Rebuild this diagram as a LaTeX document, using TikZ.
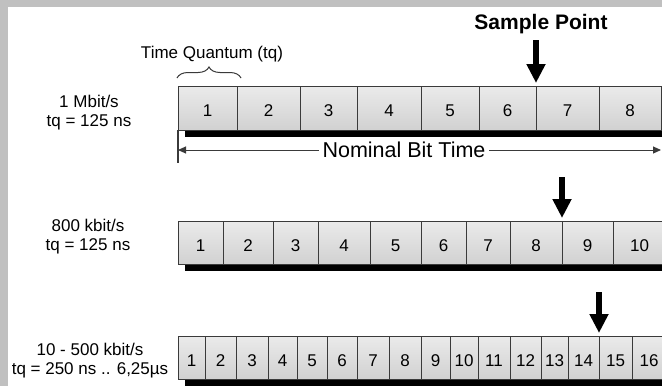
\documentclass[tikz,border=0pt]{standalone}
\usepackage{fontspec}
\setmainfont{Liberation Sans}
\usetikzlibrary{positioning, arrows.meta, decorations.pathreplacing, backgrounds}
\definecolor{framegray}{HTML}{C0C0C0}
\definecolor{linegray}{HTML}{3A3A3A}
\tikzset{
tqcell/.style={draw=linegray, line width=0.9pt, anchor=north west, outer sep=0pt, inner sep=0pt,
  top color=gray!16, middle color=white, bottom color=gray!36,
  text height=17pt, text depth=0pt, font=\fontsize{17}{20}\selectfont}, % one time quantum
rowshadow/.style={fill=black}, % dark bar under each row
rate/.style={align=center, font=\fontsize{17}{19}\selectfont}, % bit rate text on the left
sample/.style={-{Triangle[length=19pt,width=18pt]}, line width=5.5pt, shorten >=3pt}, % sample point arrows
span/.style={{Triangle[length=8pt,width=7pt]}-, draw=linegray, line width=1pt}, % nominal bit time arrows
}

\begin{document}
\begin{tikzpicture}[x=1pt, y=-1pt]
        \path[use as bounding box, clip] (0,0) rectangle (662,386);
        \begin{scope}[on background layer]
        \fill[framegray] (0,0) rectangle (662,386);
        \fill[white] (8,7) rectangle (662,386);
        \end{scope}

        % 1 Mbit/s, 8 tq
        \foreach \n/\l/\r in {1/178/237, 2/237/300, 3/300/357, 4/357/421, 5/421/479, 6/479/536, 7/536/599, 8/599/661}
            \node[tqcell, minimum width={(\r-\l)*1pt}, minimum height=44pt] (a\n) at (\l,86) {\n};
        % 800 kbit/s, 10 tq
        \foreach \n/\l/\r in {1/178/223, 2/223/273, 3/273/318, 4/318/370, 5/370/421, 6/421/466, 7/466/510, 8/510/562, 9/562/613, 10/613/666}
            \node[tqcell, minimum width={(\r-\l)*1pt}, minimum height=43pt] (b\n) at (\l,221) {\n};
        % 10 - 500 kbit/s, 16 tq
        \foreach \n/\l/\r in {1/178/205, 2/205/236, 3/236/268, 4/268/297, 5/297/327, 6/327/357, 7/357/389, 8/389/421, 9/421/450, 10/450/478, 11/478/510, 12/510/541, 13/541/568, 14/568/599, 15/599/632, 16/632/666}
            \node[tqcell, minimum width={(\r-\l)*1pt}, minimum height=43pt] (c\n) at (\l,336) {\n};

        \begin{scope}[on background layer]
        \fill[rowshadow] ([xshift=7pt,yshift=-7pt]a1.north west) rectangle ([xshift=7pt,yshift=-7pt]a8.south east);
        \fill[rowshadow] ([xshift=7pt,yshift=-7pt]b1.north west) rectangle ([xshift=7pt,yshift=-7pt]b10.south east);
        \fill[rowshadow] ([xshift=7pt,yshift=-7pt]c1.north west) rectangle ([xshift=7pt,yshift=-7pt]c16.south east);
        \end{scope}

        \node[rate] (ra) at (89,113) {1 Mbit/s\\tq = 125 ns};
        \node[rate] (rb) at (88,237) {800 kbit/s\\tq = 125 ns};
        \node[rate] (rc) at (90,361) {10 - 500 kbit/s\\tq = 250 ns .. 6,25µs};

        \node[font=\fontsize{17}{20}\selectfont] (tq) at (212,54) {Time Quantum (tq)};
        \draw[decorate, decoration={brace, amplitude=11pt}, draw=linegray, line width=1pt]
            ([xshift=-1pt,yshift=8pt]a1.north west) -- ([xshift=4pt,yshift=8pt]a1.north east);

        \node[font=\bfseries\fontsize{21}{24}\selectfont] (sp) at (541,24) {Sample Point};
        \coordinate[above=46pt of a6.north east] (s1);
        \coordinate[above=44pt of b8.north east] (s2);
        \coordinate[above=44pt of c14.north east] (s3);
        \draw[sample] (s1) -- (a6.north east);
        \draw[sample] (s2) -- (b8.north east);
        \draw[sample] (s3) -- (c14.north east);

        \node[font=\fontsize{21.5}{24}\selectfont, inner sep=3.5pt] (nbt) at (404,150) {Nominal Bit Time};
        \coordinate[below=33pt of a1.south west] (tk);
        \draw[draw=linegray, line width=1.2pt] (a1.south west) -- (tk);
        \draw[span] (a1.south west |- nbt.west) -- (nbt.west);
        \draw[span] (a8.south east |- nbt.east) -- (nbt.east);
\end{tikzpicture}
\end{document}
